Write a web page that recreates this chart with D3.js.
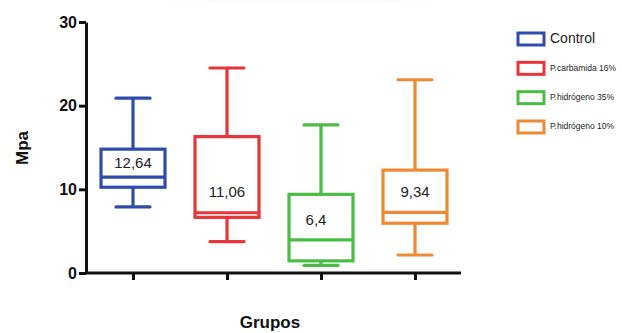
<!DOCTYPE html>
<html><head><meta charset="utf-8">
<script src="https://cdn.jsdelivr.net/npm/d3@7"></script>
<style>body{margin:0;background:#fff}svg{display:block}</style>
</head><body><svg id="c" width="622" height="333"></svg>
<script>
const groups = ["Control","P.carbamida 16%","P.hidrógeno 35%","P.hidrógeno 10%"];
const colors = ["#2e4dab","#e8353c","#4bbd45","#ee8935"];
const whiskerLow  = [7.9, 3.75, 0.9, 2.15];
const q1          = [10.25, 6.65, 1.45, 5.95];
const median      = [11.45, 7.2, 3.95, 7.25];
const q3          = [14.8, 16.3, 9.4, 12.3];
const whiskerHigh = [20.9, 24.5, 17.7, 23.1];
const meanLabels  = ["12,64","11,06","6,4","9,34"];
const meanLabelY  = [13.0, 9.6, 6.2, 9.5];
const yTicks = [0,10,20,30];

const svg = d3.select("#c");
const y = d3.scaleLinear().domain([0,30]).range([273,22]);
const x = d3.scalePoint().domain(groups).range([133,415]);

// faint top shading
const defs = svg.append("defs");
const rg = defs.append("radialGradient").attr("id","g").attr("cx","50%").attr("cy","0%").attr("r","60%");
rg.append("stop").attr("offset","0%").attr("stop-color","#e9e9e9");
rg.append("stop").attr("offset","100%").attr("stop-color","#ffffff");
svg.append("ellipse").attr("cx",300).attr("cy",0).attr("rx",260).attr("ry",30).attr("fill","url(#g)");

const yAxis = svg.append("g").attr("transform","translate(86,0)")
  .call(d3.axisLeft(y).tickValues(yTicks).tickSize(7).tickPadding(2).tickSizeOuter(0));
yAxis.select(".domain").attr("stroke","#111").attr("stroke-width",3);
yAxis.selectAll(".tick line").attr("stroke","#111").attr("stroke-width",3);
yAxis.selectAll(".tick text").attr("fill","#111").attr("font-family","Liberation Sans, Arial, sans-serif")
  .attr("font-size",16).attr("font-weight","bold");

const xAxis = svg.append("g").attr("transform","translate(0,273)")
  .call(d3.axisBottom(x).tickSize(7).tickFormat("").tickSizeOuter(0));
xAxis.select(".domain").attr("d","M86,0H461").attr("stroke","#111").attr("stroke-width",3);
xAxis.selectAll(".tick line").attr("stroke","#111").attr("stroke-width",3);

const bw = 64, cw = 34;
groups.forEach((g,i)=>{
  const cx = x(g), c = colors[i];
  const grp = svg.append("g").attr("stroke",c).attr("stroke-width",3.2).attr("fill","none");
  grp.append("line").attr("x1",cx).attr("x2",cx).attr("y1",y(whiskerHigh[i])).attr("y2",y(q3[i]));
  grp.append("line").attr("x1",cx).attr("x2",cx).attr("y1",y(q1[i])).attr("y2",y(whiskerLow[i]));
  grp.append("line").attr("x1",cx-cw/2).attr("x2",cx+cw/2).attr("y1",y(whiskerHigh[i])).attr("y2",y(whiskerHigh[i])).attr("stroke-linecap","round");
  grp.append("line").attr("x1",cx-cw/2).attr("x2",cx+cw/2).attr("y1",y(whiskerLow[i])).attr("y2",y(whiskerLow[i])).attr("stroke-linecap","round");
  grp.append("rect").attr("x",cx-bw/2).attr("width",bw).attr("y",y(q3[i])).attr("height",y(q1[i])-y(q3[i])).attr("fill","#fff");
  grp.append("line").attr("x1",cx-bw/2).attr("x2",cx+bw/2).attr("y1",y(median[i])).attr("y2",y(median[i]));
  svg.append("text").attr("x",cx - (i===2?5:0)).attr("y",y(meanLabelY[i])).attr("text-anchor","middle")
    .attr("dominant-baseline","middle").attr("font-family","Liberation Sans, Arial, sans-serif")
    .attr("font-size",15).attr("fill","#222").text(meanLabels[i]);
});

// axis titles
svg.append("text").attr("transform","translate(28,148) rotate(-90)").attr("text-anchor","middle")
  .attr("font-family","Liberation Sans, Arial, sans-serif").attr("font-weight","bold").attr("font-size",17)
  .attr("fill","#111").text("Mpa");
svg.append("text").attr("x",270).attr("y",328).attr("text-anchor","middle")
  .attr("font-family","Liberation Sans, Arial, sans-serif").attr("font-weight","bold").attr("font-size",17)
  .attr("fill","#111").text("Grupos");

// legend
const ly = d3.scalePoint().domain(groups).range([39,127]);
const leg = svg.append("g");
groups.forEach((g,i)=>{
  leg.append("rect").attr("x",518).attr("y",ly(g)-6).attr("width",26).attr("height",12)
    .attr("fill","#fff").attr("stroke",colors[i]).attr("stroke-width",3);
  leg.append("text").attr("x",550).attr("y",ly(g)).attr("dominant-baseline","middle")
    .attr("font-family","Liberation Sans, Arial, sans-serif").attr("font-size",i===0?14:8.5)
    .attr("fill","#222").text(g);
});
</script></body></html>
